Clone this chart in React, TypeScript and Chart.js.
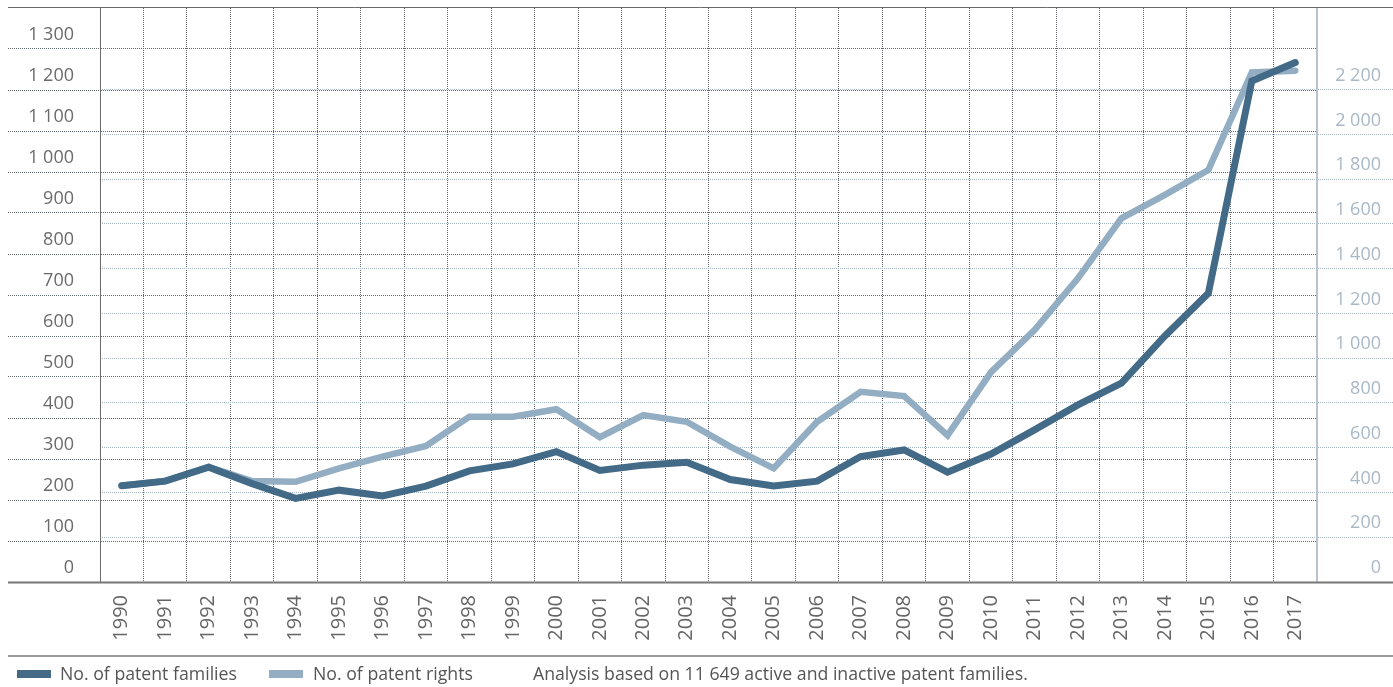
import React, { useEffect, useRef } from 'react';
import { Chart, registerables } from 'chart.js';

Chart.register(...registerables);

const years = [
  '1990', '1991', '1992', '1993', '1994', '1995', '1996', '1997', '1998', '1999',
  '2000', '2001', '2002', '2003', '2004', '2005', '2006', '2007', '2008', '2009',
  '2010', '2011', '2012', '2013', '2014', '2015', '2016', '2017',
];

const patentFamilies = [
  235, 246, 280, 240, 204, 224, 210, 234, 271, 288,
  318, 272, 285, 292, 250, 234, 246, 306, 322, 268,
  312, 371, 432, 485, 600, 704, 1222, 1267,
];

const patentRights = [
  430, 451, 514, 451, 448, 508, 560, 608, 739, 739,
  772, 647, 746, 716, 605, 508, 716, 850, 831, 655,
  938, 1126, 1357, 1625, 1730, 1841, 2277, 2285,
];

const leftTickValues = [0, 100, 200, 300, 400, 500, 600, 700, 800, 900, 1000, 1100, 1200, 1300];
const rightTickValues = [0, 200, 400, 600, 800, 1000, 1200, 1400, 1600, 1800, 2000, 2200];

const seriesLabels = ['No. of patent families', 'No. of patent rights'];
const noteText = 'Analysis based on 11 649 active and inactive patent families.';

const leftMax = 1400;
const rightMax = 2565;

const DARK = '#436a87';
const LIGHT = '#93adc3';
const GRID_DARK = '#5f656c';
const GRID_LIGHT = '#a3b6c8';

const fmt = (v: number | string) => String(v).replace(/\B(?=(\d{3})+(?!\d))/g, ' ');

export default function App() {
  const ref = useRef<HTMLCanvasElement>(null);

  useEffect(() => {
    const rules = {
      id: 'rules',
      afterDraw(chart: any) {
        const { ctx, chartArea } = chart;
        ctx.save();
        ctx.strokeStyle = '#6a6a6a';
        ctx.lineWidth = 1;
        ctx.beginPath();
        ctx.moveTo(8, chartArea.top - 0.5);
        ctx.lineTo(1393, chartArea.top - 0.5);
        ctx.stroke();
        ctx.lineWidth = 2;
        ctx.strokeStyle = '#777777';
        ctx.beginPath();
        ctx.moveTo(8, chartArea.bottom + 0.5);
        ctx.lineTo(1393, chartArea.bottom + 0.5);
        ctx.stroke();
        ctx.strokeStyle = '#9a9a9a';
        ctx.beginPath();
        ctx.moveTo(8, 656);
        ctx.lineTo(1393, 656);
        ctx.stroke();
        ctx.restore();
      },
    };

    const chart = new Chart(ref.current as HTMLCanvasElement, {
      type: 'line',
      data: {
        labels: years,
        datasets: [
          {
            label: seriesLabels[0],
            data: patentFamilies,
            yAxisID: 'yL',
            borderColor: DARK,
            backgroundColor: DARK,
            borderWidth: 7,
            pointRadius: 0,
            borderCapStyle: 'round',
            tension: 0,
          },
          {
            label: seriesLabels[1],
            data: patentRights,
            yAxisID: 'yR',
            borderColor: LIGHT,
            backgroundColor: LIGHT,
            borderWidth: 6.5,
            pointRadius: 0,
            borderCapStyle: 'round',
            tension: 0,
          },
        ],
      },
      options: {
        responsive: false,
        animation: false,
        devicePixelRatio: 1,
        layout: { padding: { left: 8, right: 12, top: 8, bottom: 0 } },
        plugins: {
          legend: { display: false },
          tooltip: { enabled: false },
        },
        scales: {
          x: {
            type: 'category',
            offset: true,
            grid: { offset: true, color: GRID_DARK, lineWidth: 1, drawTicks: false },
            border: { display: false, dash: [1, 1] },
            ticks: {
              autoSkip: false,
              minRotation: 90,
              maxRotation: 90,
              padding: 13,
              color: '#666666',
              font: { family: '"Open Sans"', size: 20 },
            },
            afterFit: (s: any) => { s.height = 105; },
          },
          yL: {
            type: 'linear',
            position: 'left',
            min: 0,
            max: leftMax,
            afterBuildTicks: (s: any) => { s.ticks = leftTickValues.map((v) => ({ value: v })); },
            ticks: {
              labelOffset: -14,
              padding: -66,
              color: '#6b6b6b',
              font: { family: '"Open Sans"', size: 18 },
              callback: (v: any) => fmt(v),
            },
            grid: {
              color: GRID_DARK,
              lineWidth: 1,
              tickLength: 92,
              tickColor: GRID_DARK,
              tickBorderDash: [1, 1],
            },
            border: { display: true, color: '#6a6a6a', width: 1, dash: [1, 1] },
            afterFit: (s: any) => { s.width = 92; },
          },
          yR: {
            type: 'linear',
            position: 'right',
            min: 0,
            max: rightMax,
            afterBuildTicks: (s: any) => { s.ticks = rightTickValues.map((v) => ({ value: v })); },
            ticks: {
              labelOffset: -14,
              padding: -30,
              crossAlign: 'far',
              color: '#a9b8c7',
              font: { family: '"Open Sans"', size: 18 },
              callback: (v: any) => fmt(v),
            },
            grid: {
              color: GRID_LIGHT,
              lineWidth: 1,
              tickLength: 76,
              tickColor: GRID_LIGHT,
              tickBorderDash: [1, 1],
              drawOnChartArea: true,
            },
            border: { display: true, color: '#b7c4d0', width: 2, dash: [1, 1] },
            afterFit: (s: any) => { s.width = 64; },
          },
        },
      } as any,
      plugins: [rules],
    });
    return () => chart.destroy();
  }, []);

  const textStyle: React.CSSProperties = {
    position: 'absolute',
    top: 663,
    fontSize: 17.7,
    lineHeight: '20px',
    color: '#555555',
    whiteSpace: 'nowrap',
  };

  return (
    <div
      style={{
        position: 'fixed',
        left: 0,
        top: 0,
        width: 1393,
        height: 687,
        fontFamily: '"Open Sans", sans-serif',
        background: '#ffffff',
      }}
    >
      <canvas ref={ref} width={1393} height={687} style={{ position: 'absolute', left: 0, top: 0 }} />
      <div style={{ position: 'absolute', left: 17, top: 670, width: 34, height: 8, background: DARK }} />
      <div style={{ ...textStyle, left: 60 }}>{seriesLabels[0]}</div>
      <div style={{ position: 'absolute', left: 269, top: 670, width: 34, height: 8, background: LIGHT }} />
      <div style={{ ...textStyle, left: 313 }}>{seriesLabels[1]}</div>
      <div style={{ ...textStyle, left: 533 }}>{noteText}</div>
    </div>
  );
}
